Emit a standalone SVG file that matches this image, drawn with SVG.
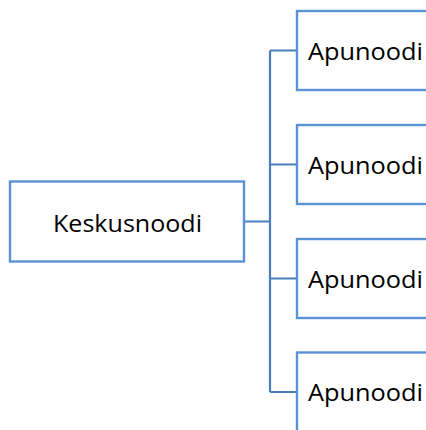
<svg xmlns="http://www.w3.org/2000/svg" width="426" height="430" viewBox="0 0 426 430">
<style>
.box{fill:#fff;stroke:#5B92D3;stroke-width:2.4}
.lbl{font-family:"Open Sans","Noto Sans",sans-serif;font-size:24px;fill:#000}
.conn{fill:none;stroke:#4A7EBB;stroke-width:2.2}
</style>
<rect width="426" height="430" fill="#fff"/>
<g id="connectors">
<path class="conn" d="M244,221.5 H270 M270,50.5 V392 M270,50.5 H297 M270,164.5 H297 M270,278.5 H297 M270,392 H297"/>
</g>
<g id="center">
<rect class="box" x="10" y="181.5" width="234" height="80"/>
<text class="lbl" x="53" y="231.5" textLength="149" lengthAdjust="spacingAndGlyphs">Keskusnoodi</text>
</g>
<g id="child1">
<rect class="box" x="297" y="11" width="150" height="79"/>
<text class="lbl" x="308" y="60" textLength="115" lengthAdjust="spacingAndGlyphs">Apunoodi</text>
</g>
<g id="child2">
<rect class="box" x="297" y="125" width="150" height="79"/>
<text class="lbl" x="308" y="174" textLength="115" lengthAdjust="spacingAndGlyphs">Apunoodi</text>
</g>
<g id="child3">
<rect class="box" x="297" y="239" width="150" height="79"/>
<text class="lbl" x="308" y="288" textLength="115" lengthAdjust="spacingAndGlyphs">Apunoodi</text>
</g>
<g id="child4">
<rect class="box" x="297" y="352.5" width="150" height="79"/>
<text class="lbl" x="308" y="401" textLength="115" lengthAdjust="spacingAndGlyphs">Apunoodi</text>
</g>
</svg>
